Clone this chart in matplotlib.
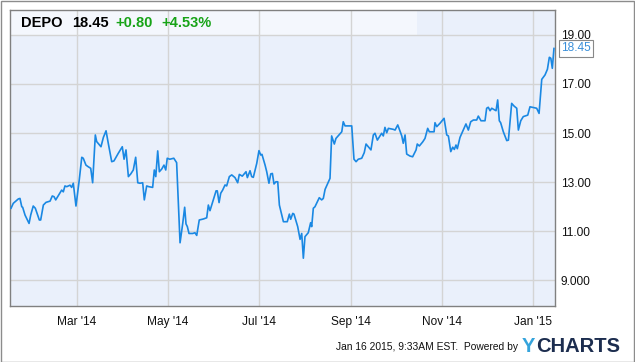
import pandas as pd
import matplotlib
matplotlib.use("Agg")
import matplotlib.pyplot as plt

plt.rcParams['font.family'] = ['Liberation Sans', 'DejaVu Sans']

# 데이터 (days since 2014-01-15, price)
start = pd.Timestamp("2014-01-15")
days = [0.7, 2.2, 5.6, 6.7, 7.9, 8.5, 10.1, 12.8, 13.9, 15.6, 17.0, 19.7, 20.6, 22.4, 24.2,
        26.9, 28.4, 29.6, 30.7, 32.4, 34.7, 35.8, 36.9, 38.1, 40.3, 41.4, 42.5, 44.3, 46.5,
        48.2, 49.2, 51.0, 52.6, 54.2, 55.5, 57.3, 58.2, 61.1, 62.7, 64.5, 66.0, 68.3, 69.8,
        72.7, 75.4, 76.6, 77.9, 79.5, 81.1, 82.8, 84.4, 85.8, 87.3, 89.1, 90.2, 91.8, 93.2,
        95.8, 96.9, 97.9, 99.2, 100.3, 101.9, 103.4, 104.6, 105.6, 107.3, 110.0, 111.9,
        114.2, 116.0, 117.3, 118.2, 119.1, 120.2, 122.7, 124.2, 125.4, 127.1, 129.8, 132.1,
        133.2, 134.3, 136.5, 138.4, 139.2, 140.4, 141.5, 142.8, 144.4, 145.5, 147.3, 148.9,
        151.1, 152.9, 154.0, 156.0, 158.5, 159.4, 161.2, 162.3, 163.4, 165.7, 167.2, 168.4,
        169.2, 171.3, 172.4, 173.9, 175.1, 176.2, 177.3, 178.6, 179.8, 180.9, 183.6, 186.2,
        187.6, 188.5, 189.9, 190.7, 193.2, 194.8, 195.9, 197.0, 198.1, 200.3, 201.9, 202.6,
        203.7, 204.8, 207.7, 209.3, 210.4, 211.6, 214.9, 216.0, 217.8, 218.9, 222.8, 223.8,
        225.0, 229.5, 231.0, 232.4, 233.9, 236.2, 237.9, 239.1, 240.6, 242.4, 244.0, 245.1,
        246.7, 248.5, 249.6, 250.7, 251.8, 253.0, 254.1, 257.4, 258.6, 260.4, 263.1, 264.1,
        265.3, 266.4, 268.6, 270.4, 272.7, 273.5, 274.9, 277.2, 278.7, 280.5, 281.6, 284.8,
        285.4, 286.6, 288.8, 291.5, 293.3, 294.4, 296.0, 297.3, 298.4, 299.5, 300.4, 302.2,
        304.4, 306.2, 307.8, 309.4, 311.2, 313.4, 314.5, 316.3, 319.0, 320.1, 321.2, 322.4,
        323.5, 326.4, 327.5, 328.6, 329.5, 331.3, 333.6, 334.7, 336.9, 338.5, 340.3, 341.4,
        343.0, 344.7, 347.7, 349.2, 353.7, 355.3, 357.1, 359.3, 360.9, 362.2, 363.2, 364.2,
        365.3]
price = [11.93, 12.13, 12.31, 12.33, 11.99, 11.97, 11.65, 11.31, 11.65, 12.02, 11.93, 11.45,
         11.45, 12.06, 12.17, 12.22, 12.43, 12.40, 12.27, 12.44, 12.67, 12.60, 12.84, 12.81,
         12.87, 12.78, 12.95, 12.02, 13.08, 14.01, 13.97, 13.69, 13.62, 13.56, 12.97, 14.92,
         14.65, 14.44, 14.82, 15.09, 14.58, 13.83, 13.86, 14.17, 14.44, 13.93, 14.31, 13.22,
         13.33, 13.49, 14.01, 12.97, 12.95, 12.97, 12.27, 12.84, 12.81, 12.78, 13.49, 13.22,
         14.27, 13.42, 13.53, 13.69, 13.49, 13.97, 13.93, 13.97, 13.79, 10.52, 11.31, 11.97,
         11.29, 11.18, 10.90, 10.90, 10.93, 10.82, 11.45, 11.49, 11.54, 12.06, 11.83, 12.27,
         12.64, 12.64, 12.16, 12.54, 12.67, 12.88, 12.84, 13.22, 13.29, 13.18, 12.97, 13.31,
         13.24, 13.42, 13.18, 13.46, 13.22, 13.19, 13.76, 14.28, 14.10, 14.13, 13.69, 13.42,
         12.95, 13.33, 13.35, 12.92, 13.01, 13.01, 12.06, 11.38, 11.38, 11.69, 11.48, 11.72,
         11.69, 11.18, 10.66, 10.90, 9.89, 10.77, 10.93, 11.34, 11.18, 11.93, 11.99, 12.36,
         12.27, 12.33, 12.70, 13.15, 14.88, 14.55, 14.78, 15.05, 15.46, 15.29, 15.29, 13.93,
         13.83, 13.93, 13.97, 14.20, 14.55, 14.44, 14.31, 14.92, 14.99, 14.71, 14.88, 14.99,
         14.88, 15.23, 15.01, 15.19, 15.15, 15.12, 15.33, 14.88, 14.58, 14.92, 14.14, 14.06,
         14.03, 14.31, 14.55, 14.47, 14.64, 14.78, 15.19, 15.05, 15.05, 15.42, 15.26, 15.40,
         15.60, 14.92, 14.88, 14.24, 14.42, 14.33, 14.51, 14.36, 14.82, 15.12, 15.37, 15.12,
         15.46, 15.53, 15.53, 15.69, 15.50, 15.50, 16.01, 16.05, 15.91, 16.01, 15.91, 16.35,
         15.50, 15.42, 15.05, 14.69, 14.71, 16.21, 16.10, 16.01, 15.12, 15.50, 15.67, 15.73,
         16.07, 16.01, 15.80, 17.19, 17.37, 17.60, 18.09, 18.05, 17.64, 18.45]

ytick_values = [9, 11, 13, 15, 17, 19]
ytick_labels = ["9.000", "11.00", "13.00", "15.00", "17.00", "19.00"]
xtick_dates = ["2014-03-01", "2014-05-01", "2014-07-01", "2014-09-01", "2014-11-01", "2015-01-01"]
xtick_labels = ["Mar '14", "May '14", "Jul '14", "Sep '14", "Nov '14", "Jan '15"]

ticker = "DEPO"
last_txt = "18.45"
change_txt = "+0.80"
pct_txt = "+4.53%"
stamp = "Jan 16 2015, 9:33AM EST.  Powered by"

dates = start + pd.to_timedelta(days, unit="D")

W, H = 635, 362
fig = plt.figure(figsize=(W / 100, H / 100), dpi=100)
ax = fig.add_axes([10 / W, 56 / H, 545 / W, 296 / H])
ax.set_facecolor("#eaf0fb")

ax.plot(dates, price, color="#1a88e3", lw=1.2, zorder=3)

ax.set_xlim(start, pd.Timestamp("2015-01-16"))
ax.set_ylim(7.94, 20.02)

# header band
ax.axhspan(19, 21, xmin=0, xmax=0.747, color="#f4f7fd", zorder=0.5, lw=0)

ax.set_yticks(ytick_values)
ax.set_yticklabels(ytick_labels)
ax.yaxis.tick_right()
ax.set_xticks([pd.Timestamp(d) for d in xtick_dates])
ax.set_xticklabels(xtick_labels)
ax.tick_params(axis="both", length=0, labelsize=8.6, colors="#111111")
ax.tick_params(axis="y", pad=4)
ax.tick_params(axis="x", pad=7)
ax.grid(True, color="#d4d4d4", lw=1, zorder=1)
ax.set_axisbelow(True)
for s in ax.spines.values():
    s.set_color("#808080")
    s.set_linewidth(1)

# last value tag
ax.annotate(last_txt, xy=(dates[-1], price[-1]), xytext=(5, 0), textcoords="offset points",
            va="center", ha="left", fontsize=8.6, color="#3a8fd9",
            bbox=dict(boxstyle="square,pad=0.2", fc="white", ec="#888888", lw=0.8),
            zorder=5, annotation_clip=False)

# header text
fig.text(21 / W, 1 - 23 / H, ticker, fontsize=10.5, fontweight="bold", va="center", color="black")
fig.text(72 / W, 1 - 23 / H, last_txt, fontsize=10.5, fontweight="bold", va="center", color="black")
fig.text(115 / W, 1 - 23 / H, change_txt, fontsize=10.5, fontweight="bold", va="center", color="#17a317")
fig.text(161 / W, 1 - 23 / H, pct_txt, fontsize=10.5, fontweight="bold", va="center", color="#17a317")

# footer
fig.text(518 / W, 1 - 347 / H, stamp, fontsize=7.4, ha="right", va="center", color="#111111")
fig.text(522 / W, 1 - 347 / H, "Y", fontsize=14.5, fontweight="bold", va="center", color="#35a4dc")
fig.text(536 / W, 1 - 347 / H, "CHARTS", fontsize=14.5, fontweight="bold", va="center", color="#1c2d4f")

# outer frame
fig.patches.append(plt.Rectangle((0.5 / W, 0.5 / H), 1 - 1.5 / W, 1 - 1.5 / H, transform=fig.transFigure,
                                 fill=False, ec="#8c8c8c", lw=1))

fig.savefig("out.png", dpi=100)
